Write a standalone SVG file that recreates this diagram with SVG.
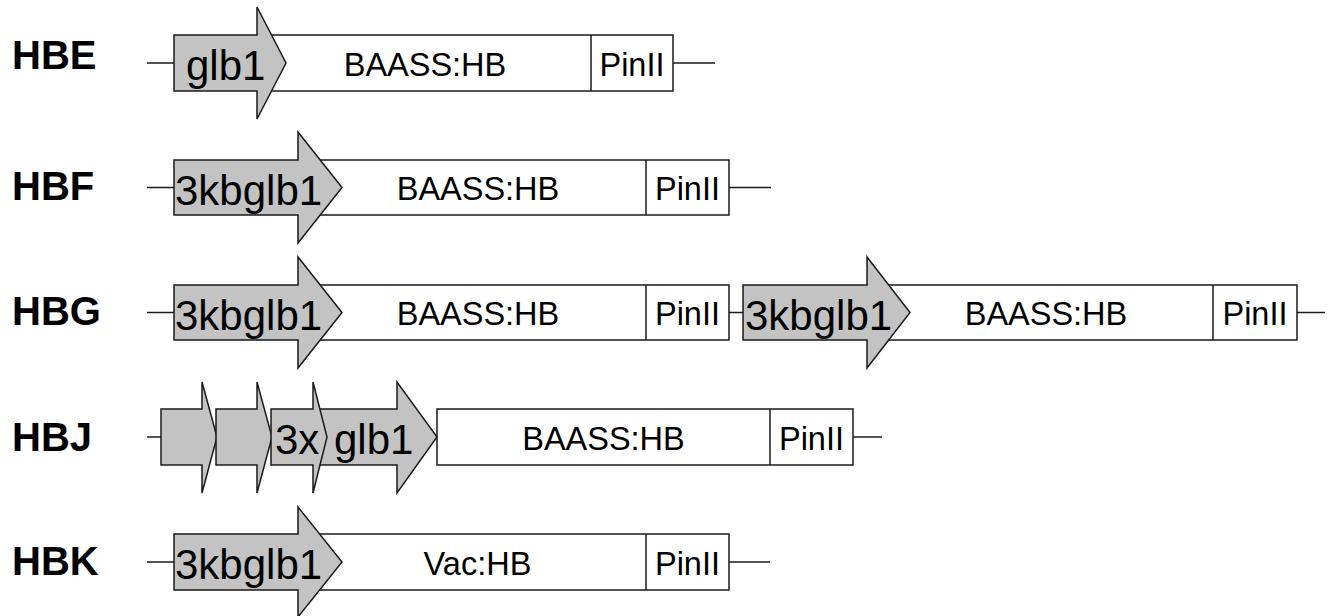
<svg xmlns="http://www.w3.org/2000/svg" width="1334" height="616" viewBox="0 0 1334 616">
  <style>
    .bg { fill: #ffffff; }
    .box { fill: #ffffff; stroke: #1a1a1a; stroke-width: 1.5; }
    .div { stroke: #1a1a1a; stroke-width: 1.5; fill: none; }
    .arrow { fill: #c3c3c3; stroke: #1a1a1a; stroke-width: 1.5; stroke-linejoin: miter; }
    .wire { stroke: #1a1a1a; stroke-width: 1.5; fill: none; }
    .name { font-family: "Liberation Sans", Arial, sans-serif; font-weight: bold; font-size: 40px; fill: #000; }
    .prom { font-family: "Liberation Sans", Arial, sans-serif; font-size: 42px; fill: #000; }
    .seg { font-family: "Liberation Sans", Arial, sans-serif; font-size: 32.5px; fill: #000; text-anchor: middle; }
  </style>
  <rect class="bg" x="0" y="0" width="1334" height="616"/>

  <!-- backbone lines between elements -->
  <g id="connectors">
    <line class="wire" x1="147" y1="63" x2="174" y2="63"/>
    <line class="wire" x1="673" y1="63" x2="715" y2="63"/>
    <line class="wire" x1="147" y1="187.5" x2="174" y2="187.5"/>
    <line class="wire" x1="729" y1="187.5" x2="771" y2="187.5"/>
    <line class="wire" x1="147" y1="312.5" x2="174" y2="312.5"/>
    <line class="wire" x1="729" y1="312.5" x2="743" y2="312.5"/>
    <line class="wire" x1="1297" y1="312.5" x2="1325" y2="312.5"/>
    <line class="wire" x1="147" y1="437" x2="161" y2="437"/>
    <line class="wire" x1="853" y1="437" x2="882" y2="437"/>
    <line class="wire" x1="147" y1="562" x2="174" y2="562"/>
    <line class="wire" x1="729" y1="562" x2="770" y2="562"/>
  </g>

  <!-- HBE -->
  <g id="HBE">
    <text class="name" x="12" y="69">HBE</text>
    <rect class="box" x="257" y="35" width="416" height="56"/>
    <line class="div" x1="591" y1="35" x2="591" y2="91"/>
    <polygon class="arrow" points="174,35 257,35 257,7 286,63 257,119 257,91 174,91"/>
    <text class="prom" x="186" y="80">glb1</text>
    <text class="seg" x="425" y="76">BAASS:HB</text>
    <text class="seg" x="632" y="76">PinII</text>
  </g>

  <!-- HBF -->
  <g id="HBF">
    <text class="name" x="12" y="200">HBF</text>
    <rect class="box" x="298" y="160" width="431" height="55"/>
    <line class="div" x1="646" y1="160" x2="646" y2="215"/>
    <polygon class="arrow" points="174,160 298,160 298,132 342,187.5 298,243 298,215 174,215"/>
    <text class="prom" x="175" y="205">3kbglb1</text>
    <text class="seg" x="478" y="200">BAASS:HB</text>
    <text class="seg" x="687.5" y="200">PinII</text>
  </g>

  <!-- HBG: two cassettes in tandem -->
  <g id="HBG">
    <text class="name" x="12" y="325">HBG</text>
    <rect class="box" x="298" y="285" width="431" height="55"/>
    <line class="div" x1="646" y1="285" x2="646" y2="340"/>
    <polygon class="arrow" points="174,285 298,285 298,257 342,312.5 298,368 298,340 174,340"/>
    <text class="prom" x="175" y="330">3kbglb1</text>
    <text class="seg" x="478" y="325">BAASS:HB</text>
    <text class="seg" x="687.5" y="325">PinII</text>

    <rect class="box" x="867" y="285" width="430" height="55"/>
    <line class="div" x1="1213" y1="285" x2="1213" y2="340"/>
    <polygon class="arrow" points="743,285 867,285 867,257 910,312.5 867,368 867,340 743,340"/>
    <text class="prom" x="745" y="330">3kbglb1</text>
    <text class="seg" x="1046" y="325">BAASS:HB</text>
    <text class="seg" x="1255" y="325">PinII</text>
  </g>

  <!-- HBJ: triple enhancer repeat ahead of glb1 -->
  <g id="HBJ">
    <text class="name" x="12" y="451">HBJ</text>
    <rect class="box" x="437" y="409" width="416" height="56"/>
    <line class="div" x1="770" y1="409" x2="770" y2="465"/>
    <polygon class="arrow" points="313,409 397,409 397,382 437,437 397,493 397,465 313,465"/>
    <polygon class="arrow" points="161,409 202,409 202,382 217,437 202,493 202,465 161,465"/>
    <polygon class="arrow" points="216,409 257,409 257,382 272,437 257,493 257,465 216,465"/>
    <polygon class="arrow" points="271,409 313,409 313,382 327,437 313,493 313,465 271,465"/>
    <text class="prom" x="275" y="454">3x</text>
    <text class="prom" x="334" y="454">glb1</text>
    <text class="seg" x="603.5" y="450">BAASS:HB</text>
    <text class="seg" x="811.5" y="450">PinII</text>
  </g>

  <!-- HBK -->
  <g id="HBK">
    <text class="name" x="12" y="575">HBK</text>
    <rect class="box" x="298" y="534" width="431" height="56"/>
    <line class="div" x1="646" y1="534" x2="646" y2="590"/>
    <polygon class="arrow" points="174,534 298,534 298,507 342,562 298,617 298,590 174,590"/>
    <text class="prom" x="175" y="579">3kbglb1</text>
    <text class="seg" x="477.5" y="575">Vac:HB</text>
    <text class="seg" x="687.5" y="575">PinII</text>
  </g>
</svg>
